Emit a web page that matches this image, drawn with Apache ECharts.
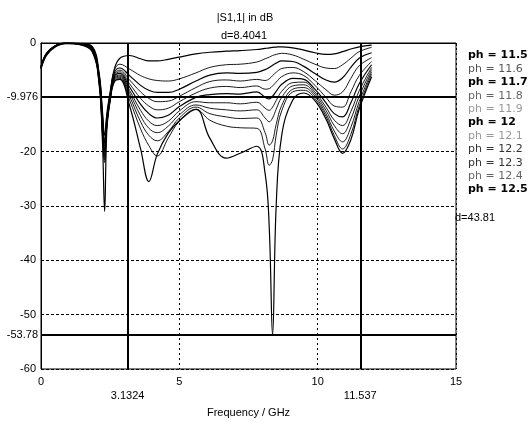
<!DOCTYPE html>
<html>
<head>
<meta charset="utf-8">
<script src="https://cdn.jsdelivr.net/npm/echarts@6/dist/echarts.min.js"></script>
<style>
  html, body { margin: 0; padding: 0; background: #fff; }
  #chart { width: 528px; height: 423px; }
</style>
</head>
<body>
<div id="chart"></div>
<script>
// ============================================
// 1. data (|S1,1| in dB)
// ============================================
const freq = [0, 0.2, 0.55, 0.9, 1.4, 1.85, 2.1, 2.22, 2.3, 2.38, 2.5,
  2.65, 2.85, 3.2, 3.6, 3.9, 4.2, 4.6, 5.0, 5.6, 6.1, 6.7, 7.2, 7.8, 8.1, 8.25, 8.37,
  8.5, 8.7, 9.1, 9.5, 9.9, 10.3, 10.6, 10.9, 11.2, 11.5, 11.95]

const ph115 = [-4.3, -1.9, -0.4, 0, -0.05, -0.6, -5.5, -12.5, -17, -13, -9.0,
  -4.8, -2.8, -2.3, -2.9, -3.3, -3.3, -3.0, -2.6, -2.0, -1.7, -1.5, -1.4, -1.2, -1.0, -0.9, -0.8,
  -0.75, -0.7, -0.9, -1.3, -1.8, -2.1, -2.0, -1.6, -1.1, -0.7, -0.4]
const ph116 = [-4.3, -1.9, -0.4, 0, -0.08, -0.7, -5.8, -13, -18, -13.5, -9.3,
  -5.0, -3.9, -4.8, -6.0, -6.6, -6.9, -7.0, -6.6, -5.5, -4.5, -4.0, -3.9, -3.5, -2.9, -2.6, -2.3,
  -2.1, -1.9, -2.2, -3.0, -3.9, -4.6, -4.7, -4.0, -2.8, -1.6, -0.8]
const ph117 = [-4.4, -1.9, -0.4, 0, -0.1, -0.8, -6.0, -13.5, -18.5, -13.8, -9.5,
  -5.5, -4.6, -6.0, -7.8, -8.7, -9.1, -9.1, -8.5, -7.0, -5.9, -5.5, -5.6, -5.4, -4.9, -4.5, -4.1,
  -3.7, -3.3, -3.4, -4.3, -5.6, -6.8, -7.2, -6.4, -4.5, -2.8, -1.8]
const ph118 = [-4.4, -2.0, -0.45, -0.02, -0.12, -0.9, -6.2, -14, -19, -14, -9.7,
  -5.8, -5.0, -6.8, -9.0, -10.2, -10.8, -10.7, -9.8, -8.2, -7.1, -6.8, -7.0, -6.7, -6.9, -6.6, -6.0,
  -5.4, -4.7, -4.5, -5.3, -6.9, -8.6, -9.6, -9.0, -6.5, -4.2, -2.7]
const ph119 = [-4.5, -2.0, -0.45, -0.03, -0.15, -1.0, -6.4, -14.5, -19.5, -14.2, -9.9,
  -6.0, -5.3, -7.5, -10.2, -11.6, -12.3, -12.0, -10.8, -9.2, -8.3, -8.0, -8.2, -7.9, -8.5, -8.4, -7.9,
  -7.2, -6.2, -5.5, -6.0, -7.8, -10.0, -11.6, -11.8, -9.0, -6.0, -3.4]
const ph120 = [-4.5, -2.0, -0.5, -0.04, -0.18, -1.1, -6.6, -15, -20, -14.5, -10.0,
  -6.2, -5.6, -8.1, -11.3, -13.0, -13.8, -13.3, -11.7, -10.0, -9.5, -9.3, -9.4, -9.0, -10.0, -10.3, -9.8,
  -8.9, -7.6, -6.5, -6.7, -8.5, -11.0, -13.0, -13.6, -11.0, -7.5, -4.0]
const ph121 = [-4.6, -2.1, -0.5, -0.05, -0.2, -1.2, -6.8, -15.5, -20.5, -14.8, -10.2,
  -6.4, -5.9, -8.7, -12.4, -14.4, -15.2, -14.4, -12.5, -10.8, -11.0, -11.0, -11.2, -10.9, -12.0, -12.4, -11.8,
  -10.6, -8.9, -7.3, -7.2, -9.0, -11.8, -14.2, -15.2, -12.6, -8.8, -4.5]
const ph122 = [-4.6, -2.1, -0.55, -0.06, -0.22, -1.3, -7.0, -16, -21, -15, -10.3,
  -6.6, -6.1, -9.2, -13.4, -15.7, -16.5, -15.3, -13.2, -11.4, -12.0, -12.3, -12.5, -12.3, -13.8, -14.5, -13.8,
  -12.2, -10.0, -7.9, -7.7, -9.4, -12.4, -15.2, -16.7, -14.0, -9.8, -4.9]
const ph123 = [-4.7, -2.2, -0.55, -0.07, -0.25, -1.4, -7.2, -16.5, -21.5, -15.2, -10.4,
  -6.8, -6.3, -9.8, -14.5, -17.0, -18.0, -16.3, -13.8, -11.8, -13.0, -13.6, -13.9, -13.8, -16.5, -18.8, -18.0,
  -15.0, -11.5, -8.5, -8.2, -9.8, -13.0, -16.2, -18.2, -15.5, -10.8, -5.3]
const ph124 = [-4.7, -2.2, -0.6, -0.08, -0.28, -1.5, -7.4, -17, -22, -15.5, -10.5,
  -7.0, -6.5, -10.5, -15.8, -18.9, -20.8, -17.5, -14.4, -12.2, -14.2, -15.3, -15.6, -15.7, -19.5, -22.5, -21.5,
  -17.0, -12.5, -9.0, -8.7, -10.2, -13.5, -17.0, -19.5, -16.8, -11.6, -5.7]
const ph125 = [-4.8, -2.3, -0.6, -0.1, -0.3, -1.6, -7.6, -18, -31, -16, -10.6,
  -7.2, -6.7, -11.5, -19.5, -25.5, -20.5, -16.6, -14.3, -12.2, -17.5, -21.2, -20.3, -19.0, -24.0, -34.0, -53.8,
  -30.0, -17.0, -10.5, -9.2, -10.6, -14.0, -17.6, -20.3, -17.8, -12.2, -6.2]

const phNames = ['ph = 11.5', 'ph = 11.6', 'ph = 11.7', 'ph = 11.8', 'ph = 11.9', 'ph = 12',
  'ph = 12.1', 'ph = 12.2', 'ph = 12.3', 'ph = 12.4', 'ph = 12.5']
const phValues = [ph115, ph116, ph117, ph118, ph119, ph120, ph121, ph122, ph123, ph124, ph125]

// marker positions and the texts printed next to them
const xMarkers = [3.1324, 11.537]
const yMarkers = [-9.976, -53.78]
const xTicks = [0, 5, 10, 15]

// ============================================
// 2. legend text look (scan has bold / grey entries)
// ============================================
const legendLook = [
  { color: '#000', fontWeight: 'bold' },
  { color: '#555', fontWeight: 'normal' },
  { color: '#000', fontWeight: 'bold' },
  { color: '#666', fontWeight: 'normal' },
  { color: '#999', fontWeight: 'normal' },
  { color: '#000', fontWeight: 'bold' },
  { color: '#999', fontWeight: 'normal' },
  { color: '#333', fontWeight: 'normal' },
  { color: '#333', fontWeight: 'normal' },
  { color: '#666', fontWeight: 'normal' },
  { color: '#000', fontWeight: 'bold' }
]

const axisFont = 'Liberation Sans, Arial, sans-serif'

const chart = echarts.init(document.getElementById('chart'), null, { renderer: 'canvas' })

const series = phNames.map((name, k) => ({
  name: name,
  type: 'line',
  smooth: 0.4,
  symbol: 'none',
  lineStyle: { color: '#000', width: legendLook[k].fontWeight === 'bold' ? 1.2 : 0.9 },
  itemStyle: { color: '#000' },
  z: 3,
  data: freq.map((f, i) => [f, phValues[k][i]])
}))

// marker lines sit on the first curve
series[0].markLine = {
  silent: true,
  symbol: 'none',
  animation: false,
  lineStyle: { color: '#000', width: 2, type: 'solid' },
  label: { color: '#000', fontFamily: axisFont, fontSize: 11 },
  data: [
    ...xMarkers.map(v => ({ xAxis: v, label: { formatter: String(v), position: 'start', distance: 21 } })),
    ...yMarkers.map(v => ({
      yAxis: v,
      label: { formatter: String(v), position: 'start', distance: 3, backgroundColor: '#fff' }
    }))
  ]
}

chart.setOption({
  animation: false,
  backgroundColor: '#fff',
  textStyle: { fontFamily: axisFont },
  grid: {
    left: 41, top: 43, width: 415, height: 327,
    show: true, borderColor: '#000', borderWidth: 1, backgroundColor: 'transparent'
  },
  legend: {
    orient: 'vertical',
    left: 458,
    top: 44,
    icon: 'none',
    itemWidth: 0,
    itemHeight: 13,
    itemGap: 0.4,
    selectedMode: false,
    textStyle: { fontFamily: 'DejaVu Sans, Verdana, sans-serif', fontSize: 11, lineHeight: 13 },
    data: phNames.map((n, k) => ({ name: n, textStyle: legendLook[k] }))
  },
  graphic: [
    { type: 'text', x: 245, y: 12, style: { text: '|S1,1| in dB', fontSize: 11, fontFamily: axisFont, fill: '#000', textAlign: 'center' } },
    { type: 'text', x: 244, y: 30, style: { text: 'd=8.4041', fontSize: 11, fontFamily: axisFont, fill: '#000', textAlign: 'center' } },
    { type: 'text', x: 455, y: 212, style: { text: 'd=43.81', fontSize: 11, fontFamily: axisFont, fill: '#000', textAlign: 'left' } }
  ],
  xAxis: {
    type: 'value',
    min: 0,
    max: 15,
    interval: 5,
    name: 'Frequency / GHz',
    nameLocation: 'middle',
    nameGap: 38,
    nameTextStyle: { color: '#000', fontSize: 11, fontFamily: axisFont },
    axisLine: { show: true, lineStyle: { color: '#000', width: 1 } },
    axisTick: { show: true, length: 3, lineStyle: { color: '#000' } },
    axisLabel: { color: '#000', fontSize: 11, margin: 7, customValues: xTicks },
    splitLine: { show: true, lineStyle: { color: '#000', width: 1, type: [2, 3] } }
  },
  yAxis: {
    type: 'value',
    min: -60,
    max: 0,
    interval: 10,
    axisLine: { show: true, lineStyle: { color: '#000', width: 1 } },
    axisTick: { show: false },
    axisLabel: { color: '#000', fontSize: 11, margin: 5, padding: [0, 0, 6, 0] },
    splitLine: { show: true, lineStyle: { color: '#000', width: 1, type: [3, 2] } }
  },
  series: series
})

window.addEventListener('resize', () => chart.resize())
</script>
</body>
</html>
